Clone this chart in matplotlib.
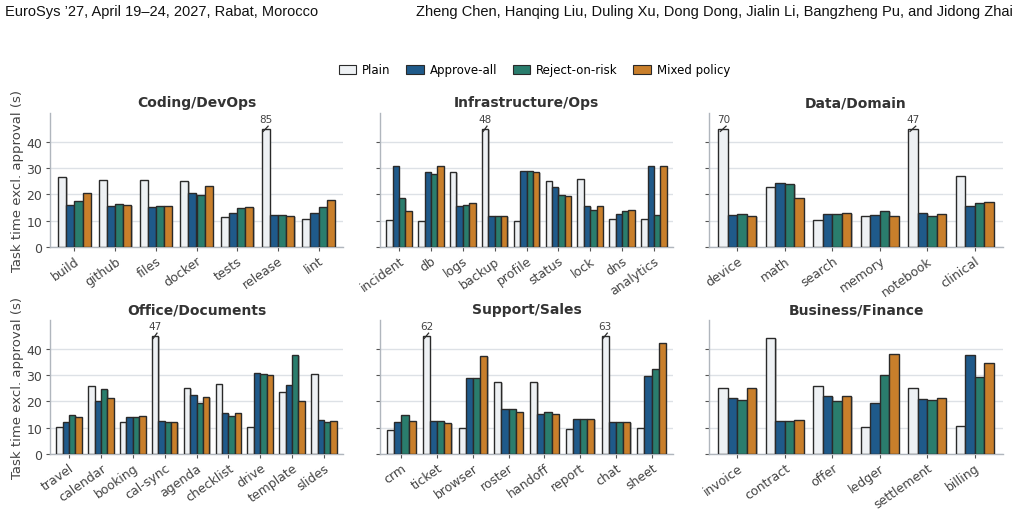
import matplotlib
matplotlib.use("Agg")
import matplotlib.pyplot as plt
import matplotlib.patheffects as pe
import numpy as np

SERIES = ["Plain", "Approve-all", "Reject-on-risk", "Mixed policy"]
COLORS = ["#eef1f4", "#1f5a8a", "#2a7d6d", "#c97f2b"]
CLIP = 45

PANELS = [
    "Coding/DevOps", "Infrastructure/Ops", "Data/Domain",
    "Office/Documents", "Support/Sales", "Business/Finance",
]

coding_cats = ["build", "github", "files", "docker", "tests", "release", "lint"]
coding_plain = [26.7, 25.4, 25.4, 25.0, 11.3, 85, 10.8]
coding_approve = [15.9, 15.6, 15.2, 20.6, 12.8, 12.1, 13.0]
coding_reject = [17.4, 16.4, 15.6, 19.7, 14.9, 12.3, 15.1]
coding_mixed = [20.6, 16.1, 15.6, 23.1, 15.2, 11.9, 17.7]

infra_cats = ["incident", "db", "logs", "backup", "profile", "status", "lock", "dns", "analytics"]
infra_plain = [10.2, 9.8, 28.4, 48, 10.0, 25.0, 25.9, 10.5, 10.5]
infra_approve = [30.7, 28.6, 15.6, 11.8, 29.0, 23.0, 15.6, 12.7, 30.7]
infra_reject = [18.7, 27.8, 16.0, 11.8, 29.0, 19.7, 14.1, 13.7, 12.3]
infra_mixed = [13.6, 30.9, 16.6, 11.8, 28.7, 19.4, 15.5, 14.0, 30.7]

data_cats = ["device", "math", "search", "memory", "notebook", "clinical"]
data_plain = [70, 22.9, 10.3, 11.7, 47, 26.9]
data_approve = [12.3, 24.3, 12.4, 12.2, 12.8, 15.7]
data_reject = [12.6, 24.1, 12.4, 13.7, 11.9, 16.8]
data_mixed = [11.8, 18.8, 12.8, 11.9, 12.4, 17.1]

office_cats = ["travel", "calendar", "booking", "cal-sync", "agenda", "checklist", "drive", "template", "slides"]
office_plain = [10.2, 25.7, 12.3, 47, 25.1, 26.8, 10.3, 23.7, 30.6]
office_approve = [12.1, 20.3, 14.2, 12.6, 22.5, 15.7, 30.7, 26.3, 12.8]
office_reject = [14.9, 24.8, 14.0, 12.1, 19.4, 14.6, 30.3, 37.6, 12.1]
office_mixed = [14.0, 21.5, 14.6, 12.1, 21.8, 15.7, 30.0, 20.3, 12.4]

support_cats = ["crm", "ticket", "browser", "roster", "handoff", "report", "chat", "sheet"]
support_plain = [9.1, 62, 9.8, 27.4, 27.4, 9.4, 63, 10.0]
support_approve = [12.1, 12.4, 28.8, 17.0, 15.4, 13.2, 12.1, 29.5]
support_reject = [15.0, 12.4, 28.8, 17.0, 15.9, 13.2, 12.3, 32.4]
support_mixed = [12.7, 11.8, 37.2, 16.0, 15.4, 13.5, 12.3, 42.3]

biz_cats = ["invoice", "contract", "offer", "ledger", "settlement", "billing"]
biz_plain = [25.1, 44.2, 26.0, 10.3, 25.0, 10.7]
biz_approve = [21.5, 12.6, 22.0, 19.3, 20.8, 37.6]
biz_reject = [20.7, 12.6, 20.1, 30.2, 20.7, 29.3]
biz_mixed = [25.0, 12.8, 22.1, 38.0, 21.3, 34.5]

PANEL_DATA = [
    (coding_cats, [coding_plain, coding_approve, coding_reject, coding_mixed]),
    (infra_cats, [infra_plain, infra_approve, infra_reject, infra_mixed]),
    (data_cats, [data_plain, data_approve, data_reject, data_mixed]),
    (office_cats, [office_plain, office_approve, office_reject, office_mixed]),
    (support_cats, [support_plain, support_approve, support_reject, support_mixed]),
    (biz_cats, [biz_plain, biz_approve, biz_reject, biz_mixed]),
]

TXT = "#333333"
shadow = [pe.SimplePatchShadow(offset=(1.0, -0.7), shadow_rgbFace="#888888", alpha=0.5), pe.Normal()]

fig = plt.figure(figsize=(10.18, 5.10), dpi=100)
W, H = 1018, 510
# axes boxes in pixels: left, right, top, bottom
cols = [(50, 343), (380, 673), (709, 1003)]
rows = [(114, 248), (321, 455)]

width = 0.2
for idx, (title, (cats, series)) in enumerate(zip(PANELS, PANEL_DATA)):
    r, c = divmod(idx, 3)
    l, rt = cols[c]
    t, b = rows[r]
    ax = fig.add_axes([l / W, 1 - b / H, (rt - l) / W, (b - t) / H])
    x = np.arange(len(cats))
    for k, vals in enumerate(series):
        vals = np.array(vals, dtype=float)
        shown = np.minimum(vals, CLIP)
        pos = x + (k - 1.5) * width
        ax.bar(pos, shown, width, color=COLORS[k], edgecolor="#2a2a2a",
               linewidth=1.0, zorder=3, path_effects=shadow)
        for p, v in zip(pos, vals):
            if v > CLIP:
                ax.plot([p - 0.06, p + 0.06], [CLIP - 1.0, CLIP + 1.0],
                        color="#2a2a2a", lw=0.9, zorder=5, clip_on=False)
                ax.text(p, CLIP + 1.8, f"{v:.0f}", ha="center", va="bottom",
                        fontsize=7.5, color="#444444", zorder=5)
    ax.set_xlim(-0.6, len(cats) - 0.4)
    ax.set_ylim(0, 51)
    ax.set_yticks([0, 10, 20, 30, 40])
    ax.set_xticks(x)
    ax.set_xticklabels(cats, rotation=35, ha="right", rotation_mode="anchor",
                       fontsize=9, color="#444444")
    ax.tick_params(axis="y", labelsize=9, labelcolor="#444444", length=3, color="#555555", pad=2.5)
    ax.tick_params(axis="x", length=3, color="#555555", pad=2)
    if c == 0:
        ax.set_ylabel("Task time excl. approval (s)", fontsize=9.5, color="#444444", labelpad=1.5)
    else:
        ax.set_yticklabels([])
    ax.grid(axis="y", color="#dde1e6", linewidth=1.0, zorder=0)
    ax.set_axisbelow(True)
    for s in ("top", "right"):
        ax.spines[s].set_visible(False)
    for s in ("left", "bottom"):
        ax.spines[s].set_color("#b0b6bd")
        ax.spines[s].set_linewidth(1.0)
    ax.set_title(title, fontsize=10, fontweight="bold", color=TXT, pad=5)

handles = [plt.Rectangle((0, 0), 1, 1, facecolor=COLORS[k], edgecolor="#2a2a2a", linewidth=0.8)
           for k in range(4)]
fig.legend(handles, SERIES, loc="center", bbox_to_anchor=(0.525, 1 - 71 / H), ncol=4,
           frameon=False, fontsize=8.5, handlelength=1.5, handleheight=0.9,
           columnspacing=1.3, handletextpad=0.5)

hdr_font = dict(fontsize=10.5, color="#111111", family=["Liberation Sans", "DejaVu Sans"])
fig.text(5 / W, 1 - 12 / H, "EuroSys ’27, April 19–24, 2027, Rabat, Morocco",
         ha="left", va="center", **hdr_font)
fig.text(1013 / W, 1 - 12 / H,
         "Zheng Chen, Hanqing Liu, Duling Xu, Dong Dong, Jialin Li, Bangzheng Pu, and Jidong Zhai",
         ha="right", va="center", **hdr_font)

fig.savefig("out.png", dpi=100)
